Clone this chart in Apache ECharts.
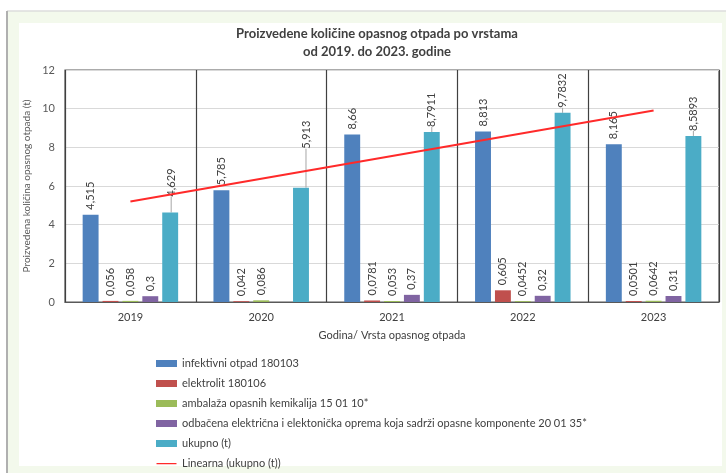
<!DOCTYPE html>
<html><head><meta charset="utf-8">
<script src="https://cdn.jsdelivr.net/npm/echarts@6/dist/echarts.min.js"></script>
<style>html,body{margin:0;padding:0;background:#fff}#c{width:726px;height:473px}</style>
</head><body><div id="c"></div>
<script>
var years = ['2019', '2020', '2021', '2022', '2023'];
var infektivni = [4.515, 5.785, 8.66, 8.813, 8.165];
var elektrolit = [0.056, 0.042, 0.0781, 0.605, 0.0501];
var ambalaza = [0.058, 0.086, 0.053, 0.0452, 0.0642];
var odbacena = [0.3, null, 0.37, 0.32, 0.31];
var ukupno = [4.629, 5.913, 8.7911, 9.7832, 8.5893];
var trend = [5.2, null, null, null, 9.9];
var yTicks = [0, 2, 4, 6, 8, 10, 12];

var names = ['infektivni otpad 180103', 'elektrolit 180106', 'ambalaža opasnih kemikalija 15 01 10*',
  'odbačena električna i elektonička oprema koja sadrži opasne komponente 20 01 35*', 'ukupno (t)', 'Linearna (ukupno (t))'];
var colors = ['#4f81bd', '#c0504d', '#9bbb59', '#8064a2', '#4bacc6'];
var FONT = 'Lato';

function fmt(p) { return String(p.value).replace('.', ','); }

function barSeries(name, data, color, extra) {
  var s = {
    name: name, type: 'bar', data: data,
    barGap: '25%', barCategoryGap: '27%',
    itemStyle: { color: color },
    label: {
      show: true, position: 'top', rotate: 90, align: 'left', verticalAlign: 'middle', distance: 5,
      fontFamily: FONT, fontSize: 11, color: '#404040', formatter: fmt
    }
  };
  if (extra) for (var k in extra) s[k] = extra[k];
  return s;
}

var chart = echarts.init(document.getElementById('c'));
chart.setOption({
  animation: false,
  backgroundColor: '#ffffff',
  textStyle: { fontFamily: FONT },
  graphic: [
    { type: 'rect', z: -10, shape: { x: 7, y: 11, width: 719, height: 462 }, style: { fill: '#f3f9ec' }, silent: true },
    { type: 'rect', z: -9, shape: { x: 19, y: 23, width: 703, height: 443 }, style: { fill: '#ffffff' }, silent: true },
    { type: 'line', z: -8, shape: { x1: 7, y1: 11, x2: 726, y2: 11 }, style: { stroke: '#dcdcdc', lineWidth: 1.5 }, silent: true },
    { type: 'line', z: -8, shape: { x1: 7, y1: 11, x2: 7, y2: 473 }, style: { stroke: '#b0b0b0', lineWidth: 2 }, silent: true }
  ],
  title: {
    text: 'Proizvedene količine opasnog otpada po vrstama\nod 2019. do 2023. godine',
    left: 372, top: 20, textAlign: 'center',
    textStyle: { fontFamily: FONT, fontSize: 13, fontWeight: 'bold', color: '#404040', lineHeight: 18 }
  },
  legend: {
    orient: 'vertical', left: 156, top: 358, height: 130, padding: 0, itemGap: 9, itemWidth: 21, itemHeight: 7,
    textStyle: { fontFamily: FONT, fontSize: 11, color: '#404040' },
    data: [
      { name: names[0], icon: 'rect' }, { name: names[1], icon: 'rect' }, { name: names[2], icon: 'rect' },
      { name: names[3], icon: 'rect' }, { name: names[4], icon: 'rect' },
      { name: names[5], icon: 'path://M0,0h0.01v0.01h-0.01z M0,2.9h20v1.3h-20z M0,7h0.01v0.01h-0.01z' }
    ]
  },
  grid: { left: 65, right: 7, top: 70, bottom: 171, show: true, borderColor: '#595959', borderWidth: 1.2 },
  xAxis: {
    type: 'category', data: years,
    axisLine: { lineStyle: { color: '#595959', width: 1.2 } },
    axisTick: { show: false },
    axisLabel: { fontFamily: FONT, fontSize: 11, color: '#404040', margin: 10 },
    splitLine: { show: true, lineStyle: { color: '#404040', width: 1.2 } },
    name: 'Godina/ Vrsta opasnog otpada', nameLocation: 'middle', nameGap: 28,
    nameTextStyle: { fontFamily: FONT, fontSize: 11, color: '#404040' }
  },
  yAxis: {
    type: 'value', min: yTicks[0], max: yTicks[yTicks.length - 1], interval: 2,
    axisLine: { show: false }, axisTick: { show: false },
    axisLabel: { fontFamily: FONT, fontSize: 11, color: '#595959', margin: 10 },
    splitLine: { lineStyle: { color: '#d9d9d9' } },
    name: 'Proizvedena količina opasnog otpada (t)', nameLocation: 'middle', nameGap: 14, nameRotate: 90,
    nameTextStyle: { fontFamily: FONT, fontSize: 10, color: '#595959' }
  },
  series: [
    barSeries(names[0], infektivni, colors[0]),
    barSeries(names[1], elektrolit, colors[1]),
    barSeries(names[2], ambalaza, colors[2]),
    barSeries(names[3], odbacena, colors[3]),
    barSeries(names[4], ukupno, colors[4], {
      // label is rotated 90°, so its local x runs up the screen and local y runs right
      labelLayout: function (p) {
        if (p.dataIndex === 0) return { dx: 11, dy: 1 };
        if (p.dataIndex === 1) return { dx: 34, dy: 5 };
        return {};
      },
      labelLine: { show: true, lineStyle: { color: '#a6a6a6', width: 1 } }
    }),
    {
      name: names[5], type: 'line', data: trend, connectNulls: true, symbol: 'none', z: 5,
      lineStyle: { color: '#ff2a2a', width: 2 }, itemStyle: { color: '#ff2a2a' }
    }
  ]
});
</script></body></html>
